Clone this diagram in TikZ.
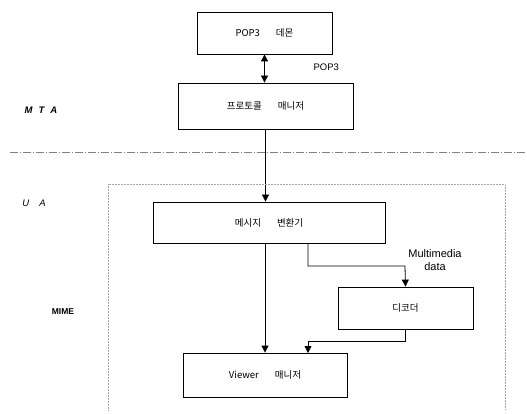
\documentclass[tikz,border=0pt]{standalone}
\usepackage{fontspec}
\setmainfont{Liberation Sans}
\newfontfamily\kr{Noto Sans CJK KR}
\usetikzlibrary{arrows.meta}
\begin{document}
\begin{tikzpicture}[x=1pt,y=-1pt,
  box/.style={draw,line width=0.8pt,minimum width=#1,minimum height=42pt,inner sep=0pt,font=\kr\fontsize{9.5}{11}\selectfont},
  conn/.style={line width=0.8pt,-{Triangle[length=7pt,width=7pt]}},
  lab/.style={font=\fontsize{9.5}{11}\selectfont}]
\useasboundingbox (0,0) rectangle (527,414);
\node[box=135pt,minimum height=42pt] (pop) at (264.5,33) {POP3\hspace{16pt}데몬};
\node[box=175pt,minimum height=46pt] (proto) at (265.5,106) {프로토콜\hspace{16pt}매니저};
\node[box=232pt,minimum height=41pt] (msg) at (269,222.5) {메시지\hspace{16pt}변환기};
\node[box=135pt,minimum height=42pt] (dec) at (405.5,308) {디코더};
\node[box=164pt,minimum height=44pt] (view) at (265,375) {Viewer\hspace{16pt}매니저};
\draw[line width=0.8pt,{Triangle[length=7pt,width=7pt]}-{Triangle[length=7pt,width=7pt]}] (pop.south) -- (pop.south |- proto.north);
\node[lab,anchor=west] (poplab) at (310,67) {POP3};
\draw[conn] (proto.south) -- (proto.south |- msg.north);
\draw[gray,line width=0.6pt,dash pattern=on 8pt off 2pt on 1pt off 2pt] (10,152) -- (527,152);
\draw[gray!70,line width=0.5pt,densely dotted] (108,410) -- (108,184) -- (505,184) -- (505,410);
\draw[conn] (msg.south -| view.north) -- (view.north);
\coordinate (b1) at (308,243);
\draw[conn] (b1) |- (405,266) -- (dec.north);
\coordinate (b2) at (308,353);
\draw[conn] (dec.south) |- (308,341) -- (b2);
\node[font=\fontsize{11}{12.5}\selectfont,align=center] (mm) at (435,260) {Multimedia\\data};
\node[font=\bfseries\itshape\fontsize{9.5}{11}\selectfont] (mta) at (41,110) {M\hspace{6pt}T\hspace{6pt}A};
\node[font=\itshape\fontsize{9.5}{11}\selectfont] (ua) at (34,203) {U\hspace{10pt}A};
\node[font=\bfseries\fontsize{8.5}{10}\selectfont] (mime) at (63,312) {MIME};
\end{tikzpicture}
\end{document}
